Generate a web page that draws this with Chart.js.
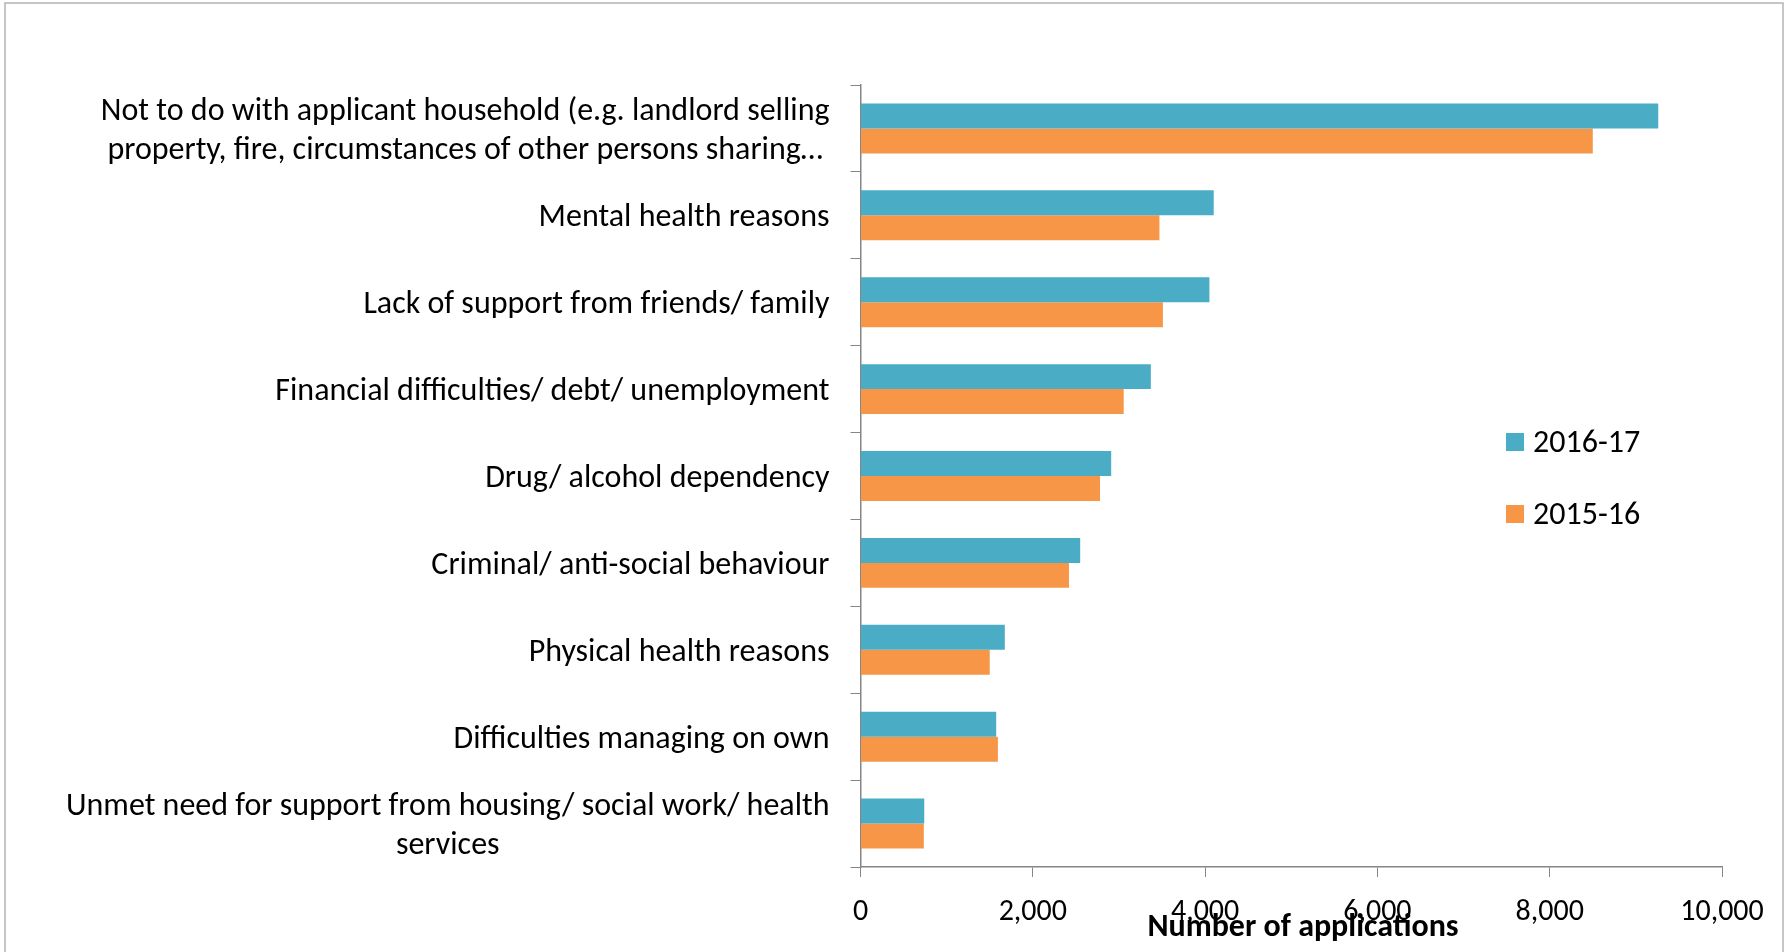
<!DOCTYPE html>
<html lang="en">
<head>
  <meta charset="UTF-8">
  <title>Reasons for homelessness applications</title>
  <script src="https://cdn.jsdelivr.net/npm/chart.js"></script>
  <style>
    body { margin: 0; background: #fff; }
    canvas { display: block; }
  </style>
</head>
<body>
  <canvas id="reasonsChart" width="1787" height="952"></canvas>

  <script>
    // Categories top to bottom, multi-line ones as arrays
    const categories = [
      ['Not to do with applicant household (e.g. landlord selling', 'property, fire, circumstances of other persons sharing…'],
      'Mental health reasons',
      'Lack of support from friends/ family',
      'Financial difficulties/ debt/ unemployment',
      'Drug/ alcohol dependency',
      'Criminal/ anti-social behaviour',
      'Physical health reasons',
      'Difficulties managing on own',
      ['Unmet need for support from housing/ social work/ health', 'services']
    ];
    const seriesLabels = ['2016-17', '2015-16'];
    const values1617 = [9260, 4100, 4050, 3370, 2910, 2550, 1675, 1575, 740];
    const values1516 = [8500, 3470, 3510, 3055, 2780, 2420, 1500, 1595, 735];
    const axisMax = 10000;
    const axisStep = 2000;
    const axisTitle = 'Number of applications';

    const FAMILY = 'Carlito, Lato, "Open Sans", sans-serif';
    const SIZE = 32;
    const TICK_SIZE = 30;
    const AXIS_GREY = '#868686';

    // Draw category labels Excel style (lines centred on each other, block right aligned),
    // the axis title, the legend and the outer frame
    const excelBits = {
      id: 'excelBits',
      afterDraw(chart) {
        const ctx = chart.ctx;
        const yScale = chart.scales.y;
        ctx.save();
        ctx.fillStyle = '#000';
        ctx.font = `${SIZE}px ${FAMILY}`;
        ctx.textBaseline = 'middle';
        ctx.textAlign = 'center';
        const rightEdge = yScale.right - 31;
        categories.forEach((cat, i) => {
          const lines = Array.isArray(cat) ? cat : [cat];
          const w = Math.max(...lines.map(l => ctx.measureText(l).width));
          const cx = rightEdge - w / 2;
          const cy = yScale.getPixelForValue(i) + 3;
          lines.forEach((line, j) => {
            ctx.fillText(line, cx, cy + (j - (lines.length - 1) / 2) * 39);
          });
        });

        // axis title
        ctx.font = `bold ${SIZE}px ${FAMILY}`;
        ctx.textBaseline = 'alphabetic';
        ctx.fillText(axisTitle, 1303, 936);

        // legend
        ctx.font = `${SIZE}px ${FAMILY}`;
        ctx.textAlign = 'left';
        ctx.textBaseline = 'middle';
        chart.data.datasets.forEach((ds, k) => {
          const top = 433 + k * 72;
          ctx.fillStyle = ds.backgroundColor;
          ctx.fillRect(1506, top, 18, 18);
          ctx.fillStyle = '#000';
          ctx.fillText(ds.label, 1533, top + 11);
        });

        // outer frame
        ctx.strokeStyle = '#b4b4b4';
        ctx.lineWidth = 1.5;
        ctx.strokeRect(5, 3, 1778, 980);
        ctx.restore();
      }
    };

    new Chart(document.getElementById('reasonsChart'), {
      type: 'bar',
      data: {
        labels: categories,
        datasets: [
          {
            label: seriesLabels[0],
            data: values1617,
            backgroundColor: '#4BACC6',
            categoryPercentage: 0.575,
            barPercentage: 1
          },
          {
            label: seriesLabels[1],
            data: values1516,
            backgroundColor: '#F79646',
            categoryPercentage: 0.575,
            barPercentage: 1
          }
        ]
      },
      options: {
        indexAxis: 'y',
        responsive: false,
        animation: false,
        layout: {
          padding: { top: 85, right: 65, left: 0, bottom: 0 }
        },
        plugins: {
          legend: { display: false },
          tooltip: { enabled: false }
        },
        scales: {
          x: {
            min: 0,
            max: axisMax,
            afterFit(scale) { scale.height = 85; },
            ticks: {
              stepSize: axisStep,
              color: '#000',
              padding: 17,
              font: { family: FAMILY, size: TICK_SIZE }
            },
            grid: {
              drawOnChartArea: false,
              tickLength: 10,
              color: AXIS_GREY
            },
            border: { color: AXIS_GREY, width: 1.5 }
          },
          y: {
            afterFit(scale) { scale.width = 860.5; },
            ticks: { display: false },
            grid: {
              offset: true,
              drawOnChartArea: false,
              tickLength: 10,
              color: AXIS_GREY
            },
            border: { color: AXIS_GREY, width: 1.5 }
          }
        }
      },
      plugins: [excelBits]
    });
  </script>
</body>
</html>
